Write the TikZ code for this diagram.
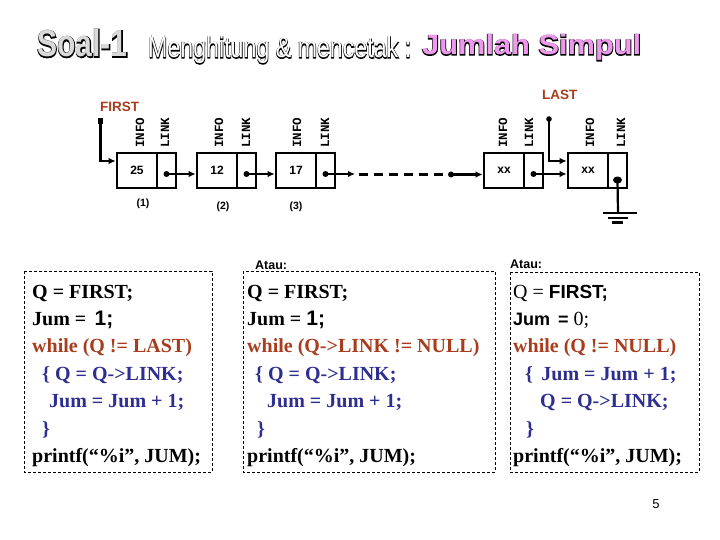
\documentclass[tikz,border=0pt]{standalone}
\usepackage{fontspec}
\setmainfont{Liberation Serif}
\setsansfont{Liberation Sans}
\setmonofont{Liberation Mono}
\newfontface\fatbold{Liberation Sans Bold}[FakeBold=5]
\newfontface\fatreg{Liberation Sans}[FakeBold=5]
\newfontface\plainbold{Liberation Sans Bold}
\newfontface\plainreg{Liberation Sans}
\newcommand\outl[4]{\rlap{\color{black}#2#4}{\color{#1}#3#4}}
\usetikzlibrary{arrows.meta}
\definecolor{brn}{HTML}{A83C1C}
\definecolor{blu}{HTML}{2E2E90}
\definecolor{vio}{HTML}{EE99EE}
\definecolor{lgray}{HTML}{D9D9D9}
\begin{document}
\begin{tikzpicture}[x=1pt,y=-1pt,
  cell/.style={draw, line width=2.6pt, minimum height=35pt, inner sep=0pt,
    font=\sffamily\bfseries\fontsize{12}{12}\selectfont},
  infocell/.style={cell, minimum width=40pt},
  linkcell/.style={cell, minimum width=19pt},
  fld/.style={rotate=90, anchor=west, inner sep=0pt,
    font=\ttfamily\bfseries\fontsize{12.5}{12.5}\selectfont},
  ptr/.style={line width=2.2pt, -{Latex[length=7pt,width=6.5pt]}},
  num/.style={inner sep=0pt, font=\sffamily\bfseries\fontsize{10.5}{10.5}\selectfont},
  tag/.style={anchor=base west, inner sep=0pt, text=brn,
    font=\sffamily\bfseries\fontsize{13.5}{13.5}\selectfont},
  atau/.style={anchor=base west, inner sep=0pt,
    font=\sffamily\bfseries\fontsize{12.5}{12.5}\selectfont},
  code/.style={anchor=base west, inner sep=0pt,
    font=\bfseries\fontsize{20}{20}\selectfont},
  codebox/.style={draw, dash pattern=on 3pt off 2pt, line width=0.9pt},
  titl/.style={anchor=base west, inner sep=0pt}
]
\useasboundingbox (0,0) rectangle (720,540);

% ---------- title ----------
\node[titl] (t1) at (37,57)
  {\scalebox{0.8}[1]{\fontsize{37.7}{38}\selectfont\outl{lgray}{\fatbold}{\plainbold}{Soal-1}}};
\node[titl] (t2) at (148,58)
  {\scalebox{0.8}[1]{\fontsize{29}{29}\selectfont\outl{white}{\fatreg}{\plainreg}{Menghitung \& mencetak :}}};
\node[titl] (t3) at (422,55)
  {\scalebox{1.1}[1]{\fontsize{28}{28}\selectfont\outl{vio}{\fatbold}{\plainbold}{Jumlah Simpul}}};

% ---------- list nodes ----------
\node[infocell] (n1i) at (137,170.5) {25};
\node[linkcell] (n1l) at (166.5,170.5) {};
\node[infocell] (n2i) at (217,170.5) {12};
\node[linkcell] (n2l) at (246.5,170.5) {};
\node[infocell] (n3i) at (296,170.5) {17};
\node[linkcell] (n3l) at (325.5,170.5) {};
\node[infocell] (n4i) at (504,170.5) {xx};
\node[linkcell] (n4l) at (533.5,170.5) {};
\node[infocell] (n5i) at (588,170.5) {xx};
\node[linkcell] (n5l) at (617.5,170.5) {};

% field labels
\foreach \n/\xi/\xl in {1/140/165, 2/219/246, 3/297/325, 4/503/529, 5/590/621}{
  \node[fld] (info\n) at (\xi,148) {INFO};
  \node[fld] (link\n) at (\xl,148) {LINK};
}

% node numbers
\node[num] (k1) at (143,204) {(1)};
\node[num] (k2) at (223,207) {(2)};
\node[num] (k3) at (296,207) {(3)};

% FIRST / LAST pointers
\node[tag] (first) at (100,112) {FIRST};
\node[tag] (last) at (542,100) {LAST};
\coordinate (f0) at (100.5,121);
\coordinate (l0) at (549,119);
\fill (f0) +(-2.6,-2.6) rectangle +(2.6,2.6);
\fill (l0) circle (2.8pt);
\draw[ptr] (f0) |- ([yshift=9.5pt]n1i.west);
\draw[ptr] (l0) |- ([yshift=9.5pt]n5i.west);

% link arrows
\coordinate (d1) at (166.5,174);
\coordinate (d2) at (246.5,174);
\coordinate (d3) at (325.5,174);
\coordinate (d4) at (533.5,174);
\coordinate (e3) at (355,174);
\coordinate (ds) at (359,174.5);
\coordinate (de) at (448,174.5);
\coordinate (dm) at (451,174.5);
\foreach \c in {d1,d2,d3,d4,dm} \fill (\c) circle (3pt);
\draw[ptr] (d1) -- (d1 -| n2i.west);
\draw[ptr] (d2) -- (d2 -| n3i.west);
\draw[ptr] (d3) -- (e3);
\draw[line width=2.2pt, dash pattern=on 9pt off 6pt] (ds) -- (de);
\draw[ptr] (dm) -- (dm -| n4i.west);
\draw[ptr] (d4) -- (d4 -| n5i.west);

% null link with ground
\coordinate (d5) at (617.5,180);
\coordinate (g) at (618,213);
\fill (d5) ellipse (4.5pt and 3.5pt);
\draw[line width=2.2pt] (d5) -- (g);
\draw[line width=2.2pt] (603,213) -- (637,213);
\draw[line width=2.2pt] (608,218) -- (628,218);
\draw[line width=2.2pt] (612,222.5) -- (623,222.5);

% ---------- code boxes ----------
\draw[codebox] (24,271) rectangle (212,472);
\draw[codebox] (243,271) rectangle (495,472);
\draw[codebox] (510,272) rectangle (699,472);

\node[atau] (at1) at (255,269) {Atau:};
\node[atau] (at2) at (510,268) {Atau:};

% box A
\node[code] (a1) at (32,298) {Q = FIRST;};
\node[code] (a2) at (32,325.4) {Jum = \,{\sffamily\fontsize{21}{21}\selectfont 1;}};
\node[code, text=brn] (a3) at (32,352.8) {while (Q != LAST)};
\node[code, text=blu] (a4) at (42,380.2) {\{ Q = Q->LINK;};
\node[code, text=blu] (a5) at (49,407.6) {Jum = Jum + 1;};
\node[code, text=blu] (a6) at (42,435) {\}};
\node[code] (a7) at (32,462.4) {printf(“\%i”, JUM);};

% box B
\node[code] (b1) at (247,298) {Q = FIRST;};
\node[code] (b2) at (247,325.4) {Jum = {\sffamily\fontsize{21}{21}\selectfont 1;}};
\node[code, text=brn] (b3) at (247,352.8) {while (Q->LINK != NULL)};
\node[code, text=blu] (b4) at (255,380.2) {\{ Q = Q->LINK;};
\node[code, text=blu] (b5) at (267,407.6) {Jum = Jum + 1;};
\node[code, text=blu] (b6) at (257,435) {\}};
\node[code] (b7) at (247,462.4) {printf(“\%i”, JUM);};

% box C
\node[code] (c1) at (513,298) {{\mdseries Q =} {\sffamily\fontsize{19}{19}\selectfont FIRST;}};
\node[code] (c2) at (513,325.4) {{\sffamily\fontsize{18}{18}\selectfont Jum \,= }{\mdseries 0;}};
\node[code, text=brn] (c3) at (513,352.8) {while (Q != NULL)};
\node[code, text=blu] (c4) at (525,380.2) {\{ \,Jum = Jum + 1;};
\node[code, text=blu] (c5) at (540,407.6) {Q = Q->LINK;};
\node[code, text=blu] (c6) at (526,435) {\}};
\node[code] (c7) at (513,462.4) {printf(“\%i”, JUM);};

% page number
\node[inner sep=0pt, anchor=base, font=\sffamily\fontsize{13}{13}\selectfont] (pg) at (656,508) {5};
\end{tikzpicture}
\end{document}
